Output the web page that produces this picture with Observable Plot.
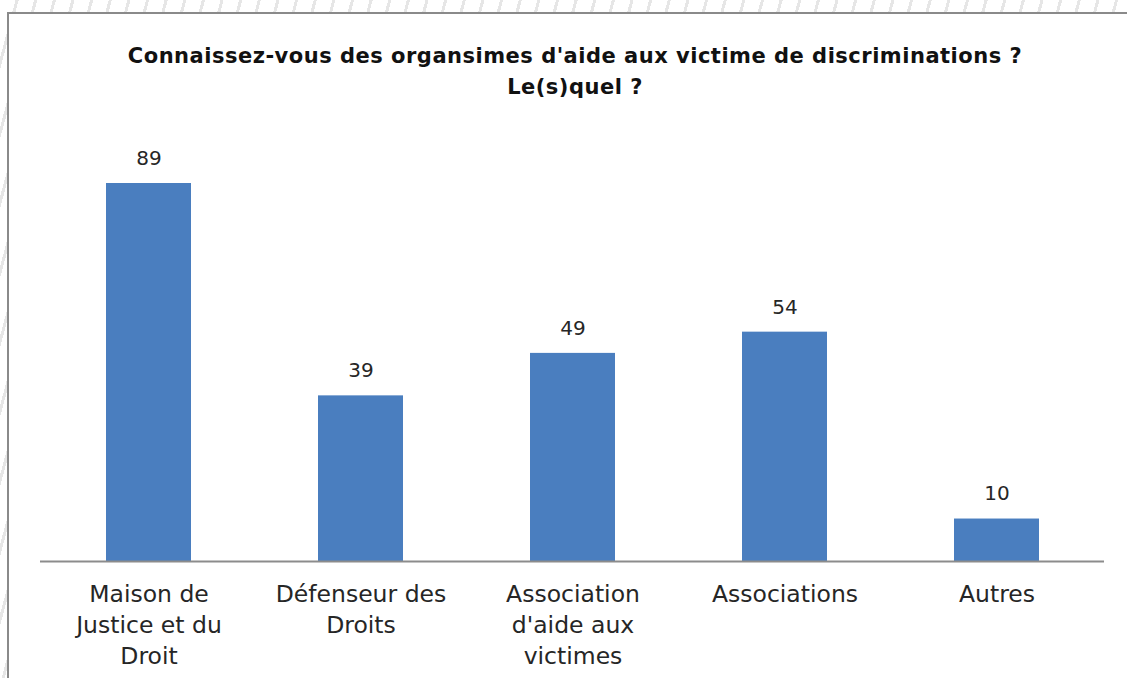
<!DOCTYPE html>
<html>
<head>
<meta charset="utf-8">
<script src="https://cdn.jsdelivr.net/npm/d3@7"></script>
<script src="https://cdn.jsdelivr.net/npm/@observablehq/plot@0.6"></script>
<style>
  html, body { margin: 0; padding: 0; }
  body {
    width: 1127px; height: 678px; overflow: hidden;
    background: repeating-linear-gradient(105deg, #ffffff 0px, #ffffff 15px, #e6e6e6 15px, #e6e6e6 18px);
  }
  #box {
    position: absolute; left: 7px; top: 12px; right: 0; bottom: 0;
    background: #fff;
    border-top: 2px solid #8a8a8a; border-left: 2px solid #8a8a8a;
  }
  #title {
    font-family: "DejaVu Sans", sans-serif; font-weight: bold; font-size: 21px;
    color: #111; text-align: center; line-height: 31px;
    padding-top: 27px; padding-left: 14px; width: 1104px; letter-spacing: 0.5px;
  }
  svg { display: block; }
</style>
</head>
<body>
<div id="box">
  <div id="title">Connaissez-vous des organsimes d'aide aux victime de discriminations ?<br>Le(s)quel ?</div>
  <div id="chart"></div>
</div>
<script>
const categories = ["Maison de\nJustice et du\nDroit", "Défenseur des\nDroits", "Association\nd'aide aux\nvictimes", "Associations", "Autres"];
const values = [89, 39, 49, 54, 10];

const data = categories.map((c, i) => ({cat: c, value: values[i]}));

const chart = Plot.plot({
  width: 1118,
  height: 573,
  marginLeft: 31,
  marginRight: 23,
  marginTop: 80,
  marginBottom: 115,
  style: {fontFamily: "DejaVu Sans, sans-serif", background: "transparent"},
  x: {domain: categories, paddingInner: 0.6, paddingOuter: 0.3, axis: null},
  y: {domain: [0, d3.max(values)], axis: null},
  marks: [
    Plot.barY(data, {x: "cat", y: "value", fill: "#4a7ebf"}),
    Plot.ruleY([0], {stroke: "#8c8c8c", strokeWidth: 2}),
    Plot.text(data, {x: "cat", y: "value", text: d => String(d.value), dy: -25, fontSize: 20, fill: "#262626"}),
    Plot.text(data, {x: "cat", y: 0, text: "cat", lineAnchor: "top", dy: 18, fontSize: 23.5, lineHeight: 1.32, fill: "#262626"})
  ]
});
document.getElementById("chart").appendChild(chart);
</script>
</body>
</html>
